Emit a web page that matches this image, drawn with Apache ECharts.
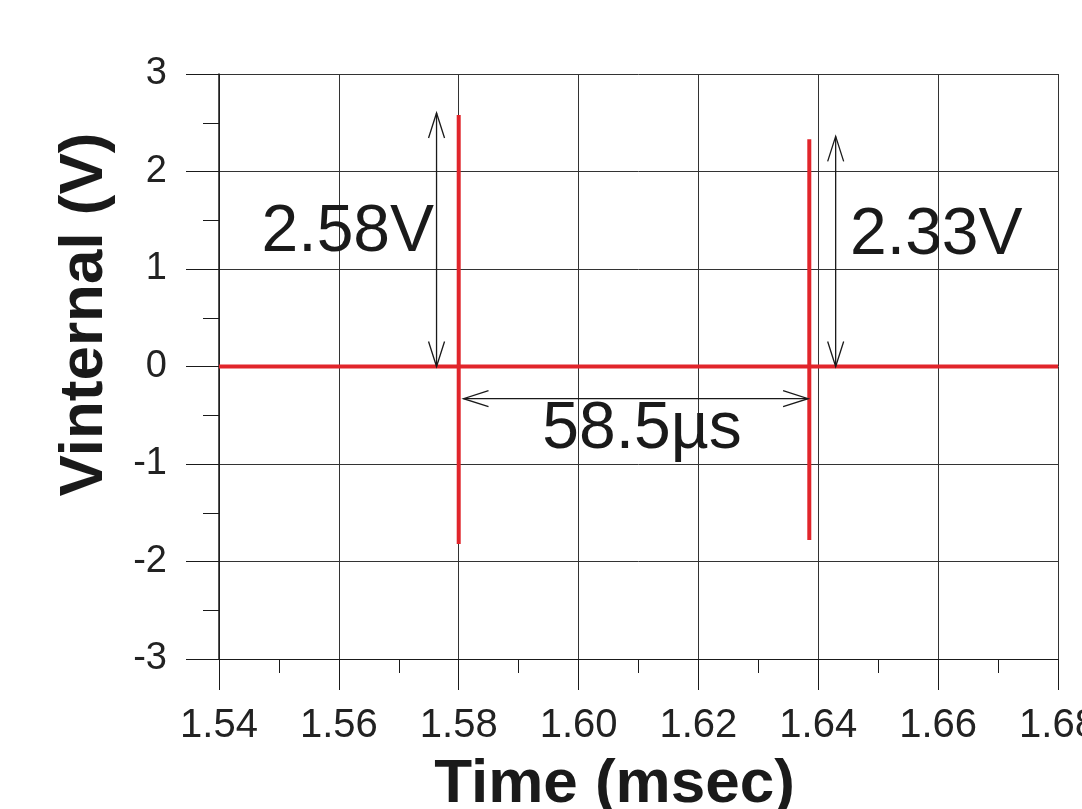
<!DOCTYPE html>
<html>
<head>
<meta charset="utf-8">
<script src="https://cdn.jsdelivr.net/npm/echarts@6/dist/echarts.min.js"></script>
<style>
  html, body { margin: 0; padding: 0; background: #fff; }
  #chart { width: 1082px; height: 809px; }
</style>
</head>
<body>
<div id="chart"></div>
<script>
// signal readings (msec, V)
const baseTime = [1.54, 1.68];
const baseValue = [0, 0];
const spikeTime = [1.58, 1.6385];
const spikeHigh = [2.58, 2.33];
const spikeLow = [-1.82, -1.78];

// tick labels
const xTicks = ["1.54", "1.56", "1.58", "1.60", "1.62", "1.64", "1.66", "1.68"];
const yTicks = ["-3", "-2", "-1", "0", "1", "2", "3"];

// annotation arrows [x1, y1, x2, y2] and texts [x, y, text]
const arrows = [
  [1.5763, 0, 1.5763, 2.6],
  [1.6429, 0, 1.6429, 2.36],
  [1.5808, -0.33, 1.6383, -0.33]
];
const notes = [
  [1.5615, 1.37, "2.58V"],
  [1.6597, 1.34, "2.33V"],
  [1.6106, -0.65, "58.5\u00b5s"]
];

const red = "#e1252b";
const ink = "#1a1a1a";
const font = "'Liberation Sans', Arial, Helvetica, sans-serif";

const chart = echarts.init(document.getElementById("chart"));

const series = [
  {
    type: "line",
    data: baseTime.map((t, i) => [t, baseValue[i]]),
    showSymbol: false,
    lineStyle: { color: red, width: 4 },
    z: 3
  }
];
spikeTime.forEach((t, i) => {
  series.push({
    type: "line",
    data: [[t, spikeHigh[i]], [t, spikeLow[i]]],
    showSymbol: false,
    lineStyle: { color: red, width: 4 },
    z: 3
  });
});

function arrowHead(tip, from) {
  const dx = from[0] - tip[0], dy = from[1] - tip[1];
  const len = Math.sqrt(dx * dx + dy * dy);
  const ux = dx / len, uy = dy / len;
  const hl = 25, hw = 8;
  return {
    type: "polyline",
    shape: {
      points: [
        [tip[0] + ux * hl - uy * hw, tip[1] + uy * hl + ux * hw],
        tip,
        [tip[0] + ux * hl + uy * hw, tip[1] + uy * hl - ux * hw]
      ]
    },
    style: { stroke: ink, lineWidth: 1.3, fill: null }
  };
}

series.push({
  type: "custom",
  data: arrows,
  encode: { x: [0, 2], y: [1, 3] },
  z: 4,
  renderItem: function (params, api) {
    const a = api.coord([api.value(0), api.value(1)]);
    const b = api.coord([api.value(2), api.value(3)]);
    return {
      type: "group",
      children: [
        {
          type: "line",
          shape: { x1: a[0], y1: a[1], x2: b[0], y2: b[1] },
          style: { stroke: ink, lineWidth: 1.3 }
        },
        arrowHead(a, b),
        arrowHead(b, a)
      ]
    };
  }
});

series.push({
  type: "custom",
  data: notes,
  encode: { x: 0, y: 1 },
  z: 5,
  renderItem: function (params, api) {
    const p = api.coord([api.value(0), api.value(1)]);
    return {
      type: "text",
      x: p[0],
      y: p[1],
      style: {
        text: notes[params.dataIndex][2],
        font: "66px " + font,
        fill: ink,
        align: "center",
        verticalAlign: "middle"
      }
    };
  }
});

chart.setOption({
  animation: false,
  backgroundColor: "#fff",
  grid: { left: 219, right: 24, top: 74, bottom: 150, outerBoundsMode: "none", containLabel: false },
  xAxis: {
    type: "value",
    min: 1.54,
    max: 1.68,
    interval: 0.02,
    name: "Time (msec)",
    nameLocation: "middle",
    nameGap: 95,
    nameTextStyle: { fontFamily: font, fontSize: 62, fontWeight: "bold", color: ink, padding: [0, 48, 0, 0] },
    axisLine: { onZero: false, lineStyle: { color: ink, width: 1.2 } },
    axisTick: { show: true, inside: false, length: 31, lineStyle: { color: ink, width: 1 } },
    minorTick: { show: true, splitNumber: 2, length: 14, lineStyle: { color: ink, width: 1 } },
    axisLabel: {
      margin: 47,
      fontFamily: font,
      fontSize: 40,
      color: "#222",
      showMaxLabel: true,
      hideOverlap: false,
      formatter: function (v) {
        return xTicks[Math.round((v - 1.54) / 0.02)];
      }
    },
    splitLine: { show: true, lineStyle: { color: "#333", width: 1 } }
  },
  yAxis: {
    type: "value",
    min: -3,
    max: 3,
    interval: 1,
    name: "Vinternal (V)",
    nameLocation: "middle",
    nameGap: 103,
    nameTextStyle: { fontFamily: font, fontSize: 62, fontWeight: "bold", color: ink, padding: [0, 0, 0, 104] },
    axisLine: { show: true, onZero: false, lineStyle: { color: ink, width: 1.5 } },
    axisTick: { show: true, inside: false, length: 33, lineStyle: { color: ink, width: 1 } },
    minorTick: { show: true, splitNumber: 2, length: 16, lineStyle: { color: ink, width: 1 } },
    axisLabel: {
      margin: 52,
      fontFamily: font,
      fontSize: 38,
      color: "#222",
      padding: [8, 0, 0, 0],
      formatter: function (v) {
        return yTicks[Math.round(v + 3)];
      }
    },
    splitLine: { show: true, lineStyle: { color: "#333", width: 1 } }
  },
  series: series
});
</script>
</body>
</html>
